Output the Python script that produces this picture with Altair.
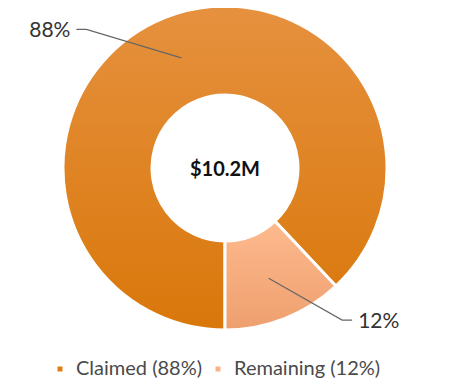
import math
import altair as alt
import pandas as pd

# ---- data ----
categories = ["Claimed", "Remaining"]
values = [88, 12]
legend_labels = ["Claimed (88%)", "Remaining (12%)"]
slice_labels = ["88%", "12%"]
center_label = "$10.2M"
solid_colors = ["#DE7E14", "#F9B386"]
grad_top = ["#E6913F", "#FDBA8E"]
grad_bottom = ["#D9770A", "#EF9F6E"]

# ---- layout ----
W, H = 430, 370
CX, CY = 217, 160
R_OUT, R_IN = 162, 73
START = math.pi  # first slice starts at 6 o'clock, clockwise

starts, ends = [], []
acc = 0
for v in values:
    starts.append(acc)
    acc += v
    ends.append(acc)
total = acc

df = pd.DataFrame({
    "cat": categories,
    "legend": legend_labels,
    "value": values,
    "start": starts,
    "end": ends,
})

theta_scale = alt.Scale(domain=[0, total], range=[START, START + 2 * math.pi])

base = alt.Chart(df).encode(
    theta=alt.Theta("start:Q", scale=theta_scale),
    theta2="end:Q",
    x=alt.value(CX),
    y=alt.value(CY),
)

solid = base.mark_arc(outerRadius=R_OUT, innerRadius=R_IN, stroke="white", strokeWidth=3).encode(
    color=alt.Color(
        "legend:N",
        scale=alt.Scale(domain=legend_labels, range=solid_colors),
        legend=alt.Legend(
            title=None, orient="none", direction="horizontal",
            legendX=42, legendY=351, symbolType="square", symbolSize=42,
            labelFont="Lato", labelFontSize=20, labelColor="#4a4a4a",
            labelOffset=6, columnPadding=5, padding=0,
        ),
    )
)

layers = [solid]
for i, c in enumerate(categories):
    g = alt.Gradient(
        gradient="linear",
        stops=[alt.GradientStop(color=grad_top[i], offset=0),
               alt.GradientStop(color=grad_bottom[i], offset=1)],
        x1=0, x2=0, y1=0, y2=1,
    )
    layers.append(
        base.transform_filter(alt.datum.cat == c).mark_arc(
            outerRadius=R_OUT, innerRadius=R_IN, fill=g, stroke="white", strokeWidth=3
        )
    )

# ---- leader lines (computed from slice mid-angles) ----
elbow = {0: (315.0, 196, -10), 1: (142.4, 192, 10)}  # angle deg, radius, horizontal tail
line_rows, text_rows = [], []
for i, c in enumerate(categories):
    mid = START + 2 * math.pi * (starts[i] + values[i] / 2) / total
    r_mid = (R_OUT + R_IN) / 2 + 1
    x0, y0 = CX + r_mid * math.sin(mid), CY - r_mid * math.cos(mid)
    ang, r_e, tail = elbow[i]
    a = math.radians(ang)
    x1, y1 = CX + r_e * math.sin(a), CY - r_e * math.cos(a)
    x2, y2 = x1 + tail, y1
    for k, (xx, yy) in enumerate([(x0, y0), (x1, y1), (x2, y2)]):
        line_rows.append({"cat": c, "k": k, "x": xx, "y": yy})
    text_rows.append({"cat": c, "label": slice_labels[i],
                      "x": x2 + (6 if tail > 0 else -6), "y": y2 + 2,
                      "align": "left" if tail > 0 else "right"})

lines = alt.Chart(pd.DataFrame(line_rows)).mark_line(color="#666666", strokeWidth=1.2).encode(
    x=alt.X("x:Q", scale=None, axis=None),
    y=alt.Y("y:Q", scale=None, axis=None),
    detail="cat:N",
    order="k:Q",
)

tdf = pd.DataFrame(text_rows)
label_left = alt.Chart(tdf[tdf["align"] == "right"]).mark_text(
    align="right", baseline="middle", font="Lato", fontSize=21, color="#333333"
).encode(x=alt.X("x:Q", scale=None, axis=None), y=alt.Y("y:Q", scale=None, axis=None), text="label:N")
label_right = alt.Chart(tdf[tdf["align"] == "left"]).mark_text(
    align="left", baseline="middle", font="Lato", fontSize=21, color="#333333"
).encode(x=alt.X("x:Q", scale=None, axis=None), y=alt.Y("y:Q", scale=None, axis=None), text="label:N")

center = alt.Chart(pd.DataFrame({"t": [center_label]})).mark_text(
    font="Lato", fontSize=20, fontWeight="bold", color="#111111", align="center", baseline="middle"
).encode(x=alt.value(CX), y=alt.value(CY + 2), text="t:N")

chart = alt.layer(*layers, lines, label_left, label_right, center).properties(
    width=W, height=H, autosize=alt.AutoSizeParams(type="none"), padding=0,
).configure(background="white", view=alt.ViewConfig(stroke=None))

chart.save("out.html", embed_options={"renderer": "svg", "actions": False})
